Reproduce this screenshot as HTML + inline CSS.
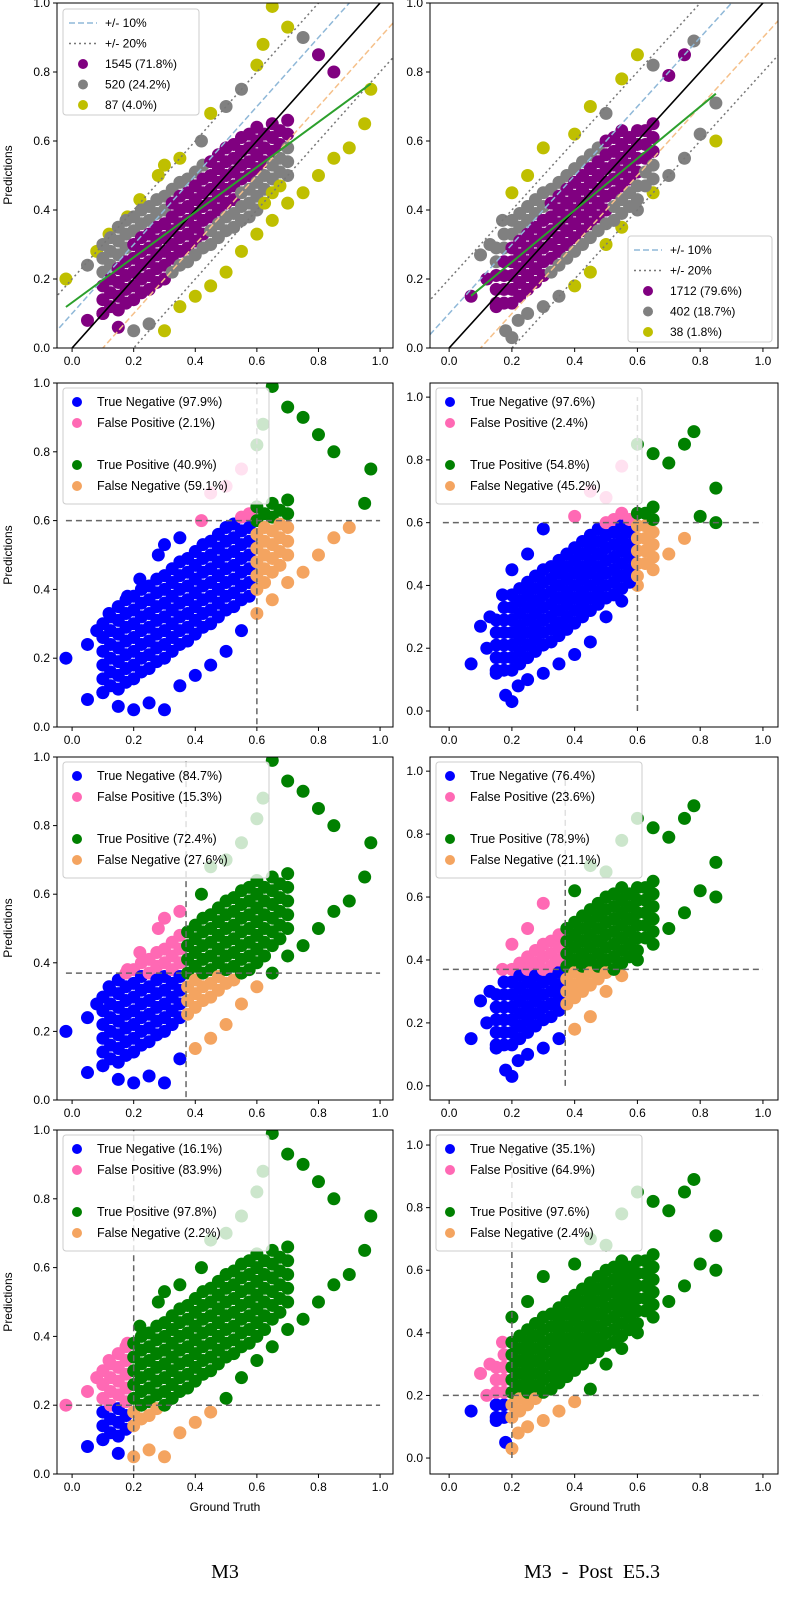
<!DOCTYPE html>
<html><head><meta charset="utf-8"><style>
body{margin:0;background:#fff;font-family:"Liberation Sans",sans-serif}
svg text{font-family:"Liberation Sans","DejaVu Sans",sans-serif}
</style></head><body>
<svg id="fig" width="800" height="1600" viewBox="0 0 800 1600" xmlns="http://www.w3.org/2000/svg">
<rect width="800" height="1600" fill="#fff"/>
<text font-size="12" transform="translate(12,175) rotate(-90)" text-anchor="middle">Predictions</text>
<text font-size="12" transform="translate(12,555) rotate(-90)" text-anchor="middle">Predictions</text>
<text font-size="12" transform="translate(12,928) rotate(-90)" text-anchor="middle">Predictions</text>
<text font-size="12" transform="translate(12,1302) rotate(-90)" text-anchor="middle">Predictions</text>
<text x="225" y="1511" font-size="12" text-anchor="middle">Ground Truth</text>
<text x="605" y="1511" font-size="12" text-anchor="middle">Ground Truth</text>
<text x="225" y="1578" font-size="20" text-anchor="middle" style="font-family:'Liberation Serif',serif">M3</text>
<text x="592" y="1578" font-size="20" text-anchor="middle" xml:space="preserve" style="font-family:'Liberation Serif',serif">M3  -  Post  E5.3</text>
</svg>
<script>
// Left (M3) outlier points: ground truth / predictions
const leftGT = [-0.02,0.05,0.1,0.15,0.2,0.25,0.3,0.05,0.08,0.12,0.18,0.22,0.28,0.3,0.35,0.42,0.45,0.5,0.55,0.6,0.62,0.65,0.7,0.75,0.8,0.85,0.97,0.95,0.9,0.85,0.8,0.75,0.7,0.65,0.6,0.55,0.5,0.45,0.4,0.35];
const leftPred = [0.2,0.08,0.1,0.06,0.05,0.07,0.05,0.24,0.28,0.33,0.38,0.43,0.5,0.53,0.55,0.6,0.68,0.7,0.75,0.82,0.88,0.99,0.93,0.9,0.85,0.8,0.75,0.65,0.58,0.55,0.5,0.45,0.42,0.37,0.33,0.28,0.22,0.18,0.15,0.12];
// Left dense core: ground-truth columns and prediction values in each
const leftCoreX = [0.1,0.125,0.15,0.175,0.2,0.225,0.25,0.275,0.3,0.325,0.35,0.375,0.4,0.425,0.45,0.475,0.5,0.525,0.55,0.575,0.6,0.625,0.65,0.675,0.7];
const leftCoreY = [[.10,.14,.18,.22,.26,.30],[.12,.16,.20,.24,.28,.32],[.11,.15,.19,.23,.27,.31,.35],[.13,.17,.21,.25,.29,.33,.37],[.14,.18,.22,.26,.30,.34,.38],[.16,.20,.24,.28,.32,.36,.40],[.17,.21,.25,.29,.33,.37,.41],[.19,.23,.27,.31,.35,.39,.43],[.20,.24,.28,.32,.36,.40,.44],[.22,.26,.30,.34,.38,.42,.46],[.24,.28,.32,.36,.40,.44,.48],[.25,.29,.33,.37,.41,.45,.49],[.27,.31,.35,.39,.43,.47,.51],[.29,.33,.37,.41,.45,.49,.53],[.30,.34,.38,.42,.46,.50,.54],[.32,.36,.40,.44,.48,.52,.56],[.34,.38,.42,.46,.50,.54,.58],[.35,.39,.43,.47,.51,.55,.59],[.37,.41,.45,.49,.53,.57,.61],[.38,.42,.46,.50,.54,.58,.62],[.40,.44,.48,.52,.56,.60,.64],[.42,.46,.50,.54,.58,.62],[.45,.49,.53,.57,.61,.65],[.47,.51,.55,.59,.63],[.50,.54,.58,.62,.66]];
// Right (M3 - Post E5.3) outliers
const rightGT = [0.07,0.12,0.15,0.18,0.2,0.22,0.25,0.1,0.13,0.17,0.2,0.25,0.3,0.4,0.45,0.5,0.55,0.6,0.65,0.7,0.75,0.78,0.85,0.85,0.8,0.75,0.7,0.65,0.6,0.55,0.5,0.45,0.4,0.35,0.3];
const rightPred = [0.15,0.2,0.12,0.05,0.03,0.08,0.1,0.27,0.3,0.37,0.45,0.5,0.58,0.62,0.7,0.68,0.78,0.85,0.82,0.79,0.85,0.89,0.71,0.6,0.62,0.55,0.5,0.45,0.4,0.35,0.3,0.22,0.18,0.15,0.12];
const rightCoreX = [0.15,0.175,0.2,0.225,0.25,0.275,0.3,0.325,0.35,0.375,0.4,0.425,0.45,0.475,0.5,0.525,0.55,0.575,0.6,0.625,0.65];
const rightCoreY = [[.13,.17,.21,.25,.29],[.13,.17,.21,.25,.29,.33],[.13,.17,.21,.25,.29,.33,.37],[.15,.19,.23,.27,.31,.35,.39],[.17,.21,.25,.29,.33,.37,.41],[.19,.23,.27,.31,.35,.39,.43],[.21,.25,.29,.33,.37,.41,.45],[.22,.26,.30,.34,.38,.42,.46],[.24,.28,.32,.36,.40,.44,.48],[.26,.30,.34,.38,.42,.46,.50],[.28,.32,.36,.40,.44,.48,.52],[.30,.34,.38,.42,.46,.50,.54],[.32,.36,.40,.44,.48,.52,.56],[.34,.38,.42,.46,.50,.54,.58],[.36,.40,.44,.48,.52,.56,.60],[.37,.41,.45,.49,.53,.57,.61],[.39,.43,.47,.51,.55,.59,.63],[.41,.45,.49,.53,.57,.61],[.43,.47,.51,.55,.59,.63],[.47,.51,.55,.59,.63],[.49,.53,.57,.61,.65]];
const thresholds = [0.6, 0.37, 0.2];
const errLegendLeft = ["1545 (71.8%)","520 (24.2%)","87 (4.0%)"];
const errLegendRight = ["1712 (79.6%)","402 (18.7%)","38 (1.8%)"];
const confLegendLeft = [["97.9%","2.1%","40.9%","59.1%"],["84.7%","15.3%","72.4%","27.6%"],["16.1%","83.9%","97.8%","2.2%"]];
const confLegendRight = [["97.6%","2.4%","54.8%","45.2%"],["76.4%","23.6%","78.9%","21.1%"],["35.1%","64.9%","97.6%","2.4%"]];
const xTicks = [0,0.2,0.4,0.6,0.8,1.0];
const yTicks = [0,0.2,0.4,0.6,0.8,1.0];

function expand(gt,pr,cx,cy){const G=gt.slice(),P=pr.slice();cx.forEach((x,i)=>cy[i].forEach(y=>{G.push(x);P.push(y);}));return [G,P];}
const LEFT=expand(leftGT,leftPred,leftCoreX,leftCoreY);
const RIGHT=expand(rightGT,rightPred,rightCoreX,rightCoreY);

const NS="http://www.w3.org/2000/svg";
const fig=document.getElementById('fig');
function mk(tag,attrs,parent){const e=document.createElementNS(NS,tag);for(const k in attrs)e.setAttribute(k,attrs[k]);(parent||fig).appendChild(e);return e;}
const rows=[[3,348],[383,727],[757,1100],[1130,1474]];
const leftBox={x0:57,x1:393,xmin:-0.049,xmax:1.042};
const rightBox={x0:430,x1:778,xmin:-0.061,xmax:1.048};
const rightY=[[0,1],[-0.051,1.045],[-0.045,1.045],[-0.051,1.048]];
let clipId=0;
function panel(col,row){
  const b=col===0?leftBox:rightBox;
  const [y0,y1]=rows[row];
  const [ymin,ymax]=col===0||row===0?[0,1]:rightY[row];
  const sx=v=>b.x0+(v-b.xmin)/(b.xmax-b.xmin)*(b.x1-b.x0);
  const sy=v=>y1-(v-ymin)/(ymax-ymin)*(y1-y0);
  const g=mk('g',{});
  
  
  const cid='c'+(clipId++);
  const cp=mk('clipPath',{id:cid},g);mk('rect',{x:b.x0,y:y0,width:b.x1-b.x0,height:y1-y0},cp);
  const plot=mk('g',{'clip-path':'url(#'+cid+')'},g);
  const [GT,PR]=col===0?LEFT:RIGHT;
  if(row===0){
    for(let i=0;i<GT.length;i++){
      const d=Math.abs(PR[i]-GT[i]);
      const c=d<0.1?'#800080':(d<0.2?'#808080':'#bfbf00');
      const p=mk('circle',{cx:sx(GT[i]),cy:sy(PR[i]),r:6.5,fill:c},plot);
      
      
    }
    const L=(o,st,dash,w)=>mk('line',{x1:sx(-0.1),y1:sy(-0.1+o),x2:sx(1.1),y2:sy(1.1+o),stroke:st,'stroke-width':w||1.5,'stroke-dasharray':dash||''},plot);
    L(0.1,'#8fb8d8','6,3');L(-0.1,'#f5c08a','6,3');L(0.2,'#777','2,3');L(-0.2,'#777','2,3');L(0,'#000','',1.6);
    let n=GT.length,mx=0,my=0;for(let i=0;i<n;i++){mx+=GT[i];my+=PR[i];}mx/=n;my/=n;
    let sxy=0,sxx=0;for(let i=0;i<n;i++){sxy+=(GT[i]-mx)*(PR[i]-my);sxx+=(GT[i]-mx)**2;}
    const k=sxy/sxx,c0=my-k*mx;const xa=Math.min(...GT),xb=Math.max(...GT);
    const fl=mk('line',{x1:sx(xa),y1:sy(c0+k*xa),x2:sx(xb),y2:sy(c0+k*xb),stroke:'#2ca02c','stroke-width':2},plot);
    
    
  } else {
    const t=thresholds[row-1];
    for(let i=0;i<GT.length;i++){
      const pos=GT[i]>=t,pp=PR[i]>=t;
      const c=pos?(pp?'#008000':'#f4a460'):(pp?'#ff69b4':'#0000ff');
      const p=mk('circle',{cx:sx(GT[i]),cy:sy(PR[i]),r:6.5,fill:c},plot);
      
      
    }
    mk('line',{x1:sx(-0.02),y1:sy(t),x2:sx(1.0),y2:sy(t),stroke:'#666','stroke-width':1.5,'stroke-dasharray':'6,4'},plot);
    mk('line',{x1:sx(t),y1:sy(col===0?-0.05:0),x2:sx(t),y2:sy(1.0),stroke:'#666','stroke-width':1.5,'stroke-dasharray':'6,4'},plot);
  }
  mk('rect',{x:b.x0,y:y0,width:b.x1-b.x0,height:y1-y0,fill:'none',stroke:'#000','stroke-width':1},g);
  xTicks.forEach(v=>{const x=sx(v);mk('line',{x1:x,y1:y1,x2:x,y2:y1+4,stroke:'#000'},g);
    const tx=mk('text',{x:x,y:y1+17,'font-size':12,'text-anchor':'middle'},g);tx.textContent=v.toFixed(1);});
  yTicks.forEach(v=>{const y=sy(v);mk('line',{x1:b.x0-4,y1:y,x2:b.x0,y2:y,stroke:'#000'},g);
    const tx=mk('text',{x:b.x0-7,y:y+4,'font-size':12,'text-anchor':'end'},g);tx.textContent=v.toFixed(1);});
  const lg=mk('g',{},g);
  
  
  if(row===0){
    const lx=col===0?b.x0+6:628,ly=col===0?y0+6:236;
    mk('rect',{x:lx,y:ly,width:col===0?136:144,height:106,rx:3,fill:'#fff','fill-opacity':0.8,stroke:'#ccc'},lg);
    const labs=col===0?errLegendLeft:errLegendRight;
    const items=[['dash','#8fb8d8','+/- 10%'],['dot','#777','+/- 20%'],['pt','#800080',labs[0]],['pt','#808080',labs[1]],['pt','#bfbf00',labs[2]]];
    items.forEach((it,i)=>{const yy=ly+14+i*20.5;
      if(it[0]==='pt')mk('circle',{cx:lx+20,cy:yy,r:5,fill:it[1]},lg);
      else mk('line',{x1:lx+6,y1:yy,x2:lx+34,y2:yy,stroke:it[1],'stroke-width':1.5,'stroke-dasharray':it[0]==='dash'?'6,3':'2,3'},lg);
      const tx=mk('text',{x:lx+42,y:yy+4,'font-size':12},lg);tx.textContent=it[2];});
  } else {
    const lx=b.x0+6,ly=y0+5;
    mk('rect',{x:lx,y:ly,width:206,height:116,rx:3,fill:'#fff','fill-opacity':0.8,stroke:'#ccc'},lg);
    const v=(col===0?confLegendLeft:confLegendRight)[row-1];
    const items=[['#0000ff','True Negative ('+v[0]+')',0],['#ff69b4','False Positive ('+v[1]+')',1],['#008000','True Positive ('+v[2]+')',3],['#f4a460','False Negative ('+v[3]+')',4]];
    items.forEach(it=>{const yy=ly+14+it[2]*21;
      mk('circle',{cx:lx+14,cy:yy,r:5,fill:it[0]},lg);
      const tx=mk('text',{x:lx+34,y:yy+4,'font-size':12.5},lg);tx.textContent=it[1];});
  }
}
for(let r=0;r<4;r++){panel(0,r);panel(1,r);}
</script>
</body></html>
